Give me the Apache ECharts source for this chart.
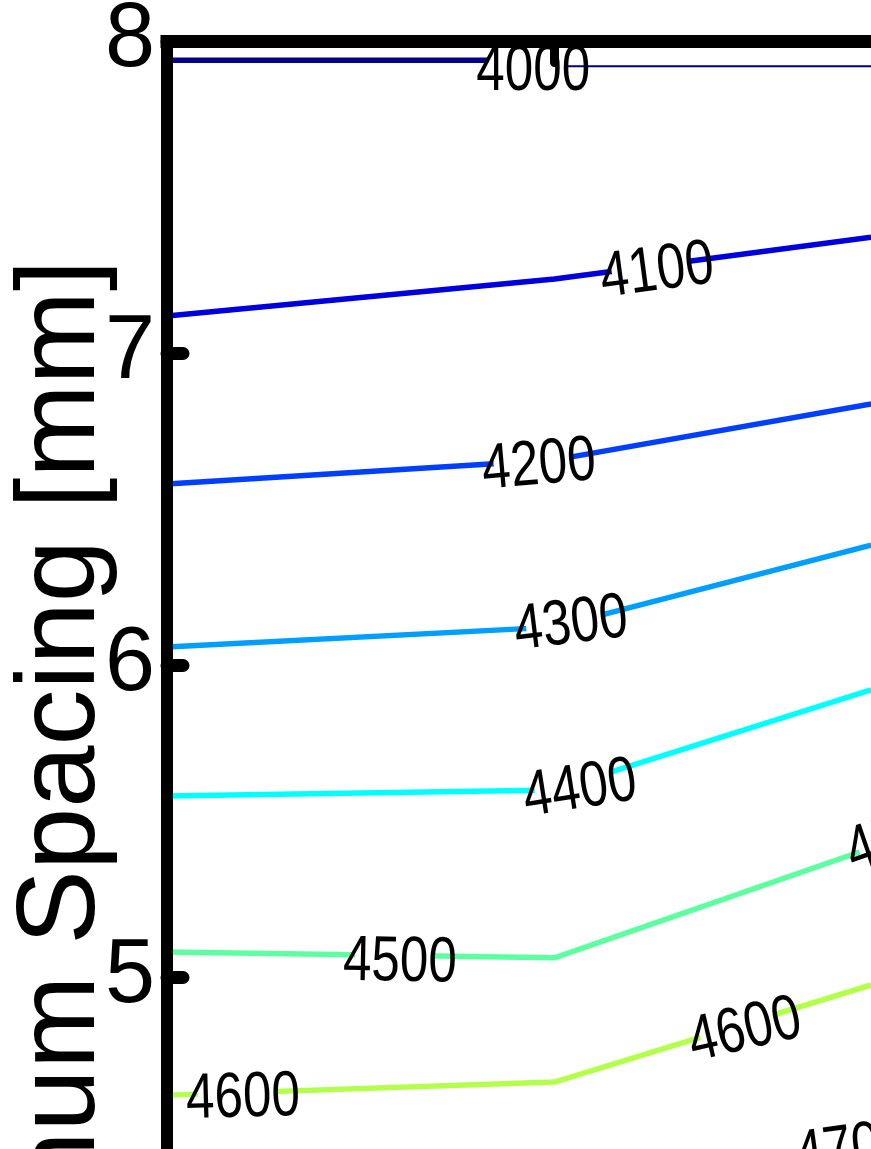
<!DOCTYPE html>
<html>
<head>
<meta charset="utf-8">
<script src="https://cdn.jsdelivr.net/npm/echarts@6/dist/echarts.min.js"></script>
<style>
html,body{margin:0;padding:0;background:#fff;}
#chart{width:871px;height:1149px;}
</style>
</head>
<body>
<div id="chart"></div>
<script>
// ---- data ----
var levels = ['4000', '4000', '4100', '4200', '4300', '4400', '4500', '4600', '4700'];
var lineX = [[0, 1], [1, 1.817], [0, 1, 1.817], [0, 1, 1.817], [0, 1, 1.817], [0, 1, 1.817], [0, 1, 1.817], [0, 1, 1.817], [0, 1, 1.817]];
var lineY = [
  [7.940, 7.940],
  [7.921, 7.921],
  [7.120, 7.239, 7.373],
  [6.582, 6.659, 6.838],
  [6.059, 6.123, 6.386],
  [5.582, 5.601, 5.922],
  [5.082, 5.063, 5.415],
  [4.623, 4.665, 4.976],
  [4.200, 4.250, 4.430]
];
var lineColors = ['#000088', '#000088', '#0000DF', '#003FFF', '#009FFF', '#00FFFF', '#5EFFA1', '#B4FF4B', '#FFE000'];
var lineWidths = [5.5, 2, 5.5, 5.5, 5.5, 5.5, 5.5, 5.5, 5.5];

var labelText = ['4000', '4100', '4200', '4300', '4400', '4500', '4500', '4600', '4600', '4700'];
var labelX = [0.945, 1.265, 0.960, 1.043, 1.066, 0.601, 1.897, 0.196, 1.492, 1.768];
var labelY = [7.901, 7.261, 6.639, 6.130, 5.601, 5.046, 5.450, 4.611, 4.828, 4.447];
var labelAngle = [0, 7.6, 5, 7, 9, -1, 19, 1.5, 13, 8];

var yTicks = [4, 5, 6, 7, 8];
var yTitle = 'Minimum Spacing [mm]';

var FONT = "'Liberation Sans', Arial, sans-serif";

var chart = echarts.init(document.getElementById('chart'), null, {renderer: 'canvas'});

var series = levels.map(function (lv, i) {
  return {
    type: 'line',
    name: lv,
    data: lineX[i].map(function (x, j) { return [x, lineY[i][j]]; }),
    showSymbol: false,
    symbol: 'none',
    smooth: false,
    lineStyle: {color: lineColors[i], width: lineWidths[i]},
    z: 2,
    silent: true
  };
});

series.push({
  type: 'custom',
  coordinateSystem: 'cartesian2d',
  data: labelX.map(function (x, i) { return [x, labelY[i], labelAngle[i]]; }),
  encode: {x: 0, y: 1},
  z: 3,
  silent: true,
  renderItem: function (params, api) {
    var p = api.coord([api.value(0), api.value(1)]);
    var ang = api.value(2) * Math.PI / 180;
    var halfW = 55;
    return {
      type: 'group',
      x: p[0],
      y: p[1],
      rotation: ang,
      children: [
        {type: 'rect', shape: {x: -halfW + 10, y: -24, width: 2 * halfW * 0.72, height: 48}, style: {fill: '#fff'}},
        {type: 'text', scaleX: 0.8, style: {text: labelText[params.dataIndex], x: 0, y: 0, align: 'center', verticalAlign: 'middle', font: '64px ' + FONT, fill: '#000'}}
      ]
    };
  }
});

var option = {
  animation: false,
  backgroundColor: '#fff',
  grid: {left: 167, top: 41.5, width: 775, height: 1248, containLabel: false, outerBoundsMode: 'none'},
  xAxis: {
    type: 'value', position: 'top', min: 0, max: 2, interval: 1, z: 10,
    axisLine: {show: true, onZero: false, lineStyle: {color: '#000', width: 13, cap: 'square'}},
    axisTick: {show: true, inside: true, length: 21, lineStyle: {color: '#000', width: 9, cap: 'round'}},
    axisLabel: {show: false},
    splitLine: {show: false}
  },
  yAxis: {
    type: 'value', min: 4, max: 8, interval: 1, z: 10,
    axisLine: {show: true, onZero: false, lineStyle: {color: '#000', width: 12, cap: 'square'}},
    axisTick: {show: true, inside: true, length: 16, lineStyle: {color: '#000', width: 13, cap: 'round'}},
    axisLabel: {show: true, margin: 12, color: '#000', fontSize: 90, fontFamily: FONT,
      formatter: function (v) { return yTicks.indexOf(v) >= 0 ? String(v) : ''; }},
    splitLine: {show: false}
  },
  graphic: [{
    type: 'text', x: 63, y: 260, rotation: Math.PI / 2, z: 20, silent: true,
    style: {text: yTitle, font: '112px ' + FONT, fill: '#000', align: 'right', verticalAlign: 'middle'}
  }],
  series: series
};
chart.setOption(option);
</script>
</body>
</html>
